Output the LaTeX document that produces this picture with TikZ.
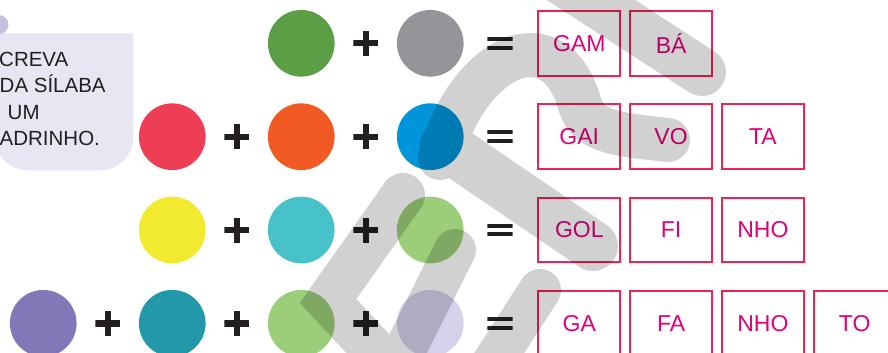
\documentclass[tikz,border=0pt]{standalone}
\usepackage{fontspec}
\setmainfont{Liberation Sans}
\usepackage{xcolor}
\usetikzlibrary{positioning}

\definecolor{leafgreen}{HTML}{5B9E46}
\definecolor{stonegray}{HTML}{939598}
\definecolor{rosered}{HTML}{EE3E56}
\definecolor{tangerine}{HTML}{F15A22}
\definecolor{skyblue}{HTML}{0095DA}
\definecolor{lemon}{HTML}{F2EA2E}
\definecolor{aqua}{HTML}{48C2C9}
\definecolor{limegreen}{HTML}{9CCD78}
\definecolor{violetdot}{HTML}{8378B7}
\definecolor{petrol}{HTML}{2398A8}
\definecolor{lilac}{HTML}{D5D3EB}
\definecolor{boxred}{HTML}{EC2450}
\definecolor{sylpink}{HTML}{E2007A}
\definecolor{panelbg}{HTML}{E8E6F3}
\definecolor{dotlilac}{HTML}{C5C0E0}
\definecolor{ink}{HTML}{231F20}

\begin{document}
\begin{tikzpicture}[x=1pt, y=-1pt,
    dot/.style={circle, inner sep=0pt, outer sep=0pt, minimum size=66.7pt},
    plusmark/.style={rectangle, inner sep=0pt, outer sep=0pt, minimum size=25pt,
      path picture={
        \fill[ink] ([yshift=3.2pt]path picture bounding box.west) rectangle ([yshift=-3.2pt]path picture bounding box.east);
        \fill[ink] ([xshift=-3.2pt]path picture bounding box.north) rectangle ([xshift=3.2pt]path picture bounding box.south);}},
    eqmark/.style={rectangle, inner sep=0pt, outer sep=0pt, minimum width=25.4pt, minimum height=12.7pt,
      path picture={
        \fill[ink] (path picture bounding box.north west) rectangle ([yshift=-4pt]path picture bounding box.north east);
        \fill[ink] (path picture bounding box.south west) rectangle ([yshift=4pt]path picture bounding box.south east);}},
    syl/.style={draw=boxred, line width=2pt, outer sep=0pt, inner sep=0pt,
      minimum width=82pt, minimum height=64.5pt, text=sylpink, font=\fontsize{23}{27}\selectfont},
    tip/.style={anchor=base west, inner sep=0pt, text=ink, font=\fontsize{20.5}{24}\selectfont},
    wm/.style={line width=44pt, line cap=round}]
  \useasboundingbox (0,0) rectangle (888,353);
  \clip (0,0) rectangle (888,353);

  % instruction panel
  \fill[panelbg] (-5,33.3) -- (133.3,33.3) [rounded corners=33pt] -- (133.3,170.3) -- (-5,170.3) [sharp corners] -- cycle;
  \fill[dotlilac] (-1,24.5) circle (9.5pt);
  \node[tip] (t1) at (-1,66.7) {CREVA};
  \node[tip] (t2) at (-0.5,92.7) {DA SÍLABA};
  \node[tip] (t3) at (7.5,119.3) {UM};
  \node[tip] (t4) at (-0.5,145.8) {ADRINHO.};

  % row 1
  \node[eqmark] (eq1) at (500,43.3) {};
  \node[dot, fill=stonegray, left=23.7pt of eq1] (c13) {};
  \node[plusmark, left=18.65pt of c13] (p12) {};
  \node[dot, fill=leafgreen, left=18.65pt of p12] (c12) {};
  \node[syl, right=25.6pt of eq1] (s11) {GAM};
  \node[syl, right=9.8pt of s11] (s12) {BÁ};

  % row 2
  \node[eqmark] (eq2) at (500,136.7) {};
  \node[dot, fill=skyblue, left=23.7pt of eq2] (c23) {};
  \node[plusmark, left=18.65pt of c23] (p22) {};
  \node[dot, fill=tangerine, left=18.65pt of p22] (c22) {};
  \node[plusmark, left=18.65pt of c22] (p21) {};
  \node[dot, fill=rosered, left=18.65pt of p21] (c21) {};
  \node[syl, right=25.6pt of eq2] (s21) {GAI};
  \node[syl, right=9.8pt of s21] (s22) {VO};
  \node[syl, right=9.8pt of s22] (s23) {TA};

  % row 3
  \node[eqmark] (eq3) at (500,230) {};
  \node[dot, fill=limegreen, left=23.7pt of eq3] (c33) {};
  \node[plusmark, left=18.65pt of c33] (p32) {};
  \node[dot, fill=aqua, left=18.65pt of p32] (c32) {};
  \node[plusmark, left=18.65pt of c32] (p31) {};
  \node[dot, fill=lemon, left=18.65pt of p31] (c31) {};
  \node[syl, right=25.6pt of eq3] (s31) {GOL};
  \node[syl, right=9.8pt of s31] (s32) {FI};
  \node[syl, right=9.8pt of s32] (s33) {NHO};

  % row 4
  \node[eqmark] (eq4) at (500,323.3) {};
  \node[dot, fill=lilac, left=23.7pt of eq4] (c43) {};
  \node[plusmark, left=18.65pt of c43] (p42) {};
  \node[dot, fill=limegreen, left=18.65pt of p42] (c42) {};
  \node[plusmark, left=18.65pt of c42] (p41) {};
  \node[dot, fill=petrol, left=18.65pt of p41] (c41) {};
  \node[plusmark, left=18.65pt of c41] (p40) {};
  \node[dot, fill=violetdot, left=18.65pt of p40] (c40) {};
  \node[syl, right=25.6pt of eq4] (s41) {GA};
  \node[syl, right=9.8pt of s41] (s42) {FA};
  \node[syl, right=9.8pt of s42] (s43) {NHO};
  \node[syl, right=9.8pt of s43] (s44) {TO};

  % watermark strokes
  \begin{scope}[transparency group, opacity=0.18]
    \draw[wm, line width=48pt] (560,-20) -- (702,72);
    \draw[wm, line join=round] (440,158) .. controls (468,55) and (555,15) .. (580,105)
      .. controls (588,130) and (610,134) .. (668,140);
    \draw[wm, line width=50pt] (445,145) -- (593,246);
    \draw[wm] (403,195) -- (328,301) -- (430,410);
    \draw[wm, line width=42pt] (455,250) -- (395,370);
    \draw[wm, line width=42pt] (540,290) -- (485,375);
  \end{scope}
\end{tikzpicture}
\end{document}
